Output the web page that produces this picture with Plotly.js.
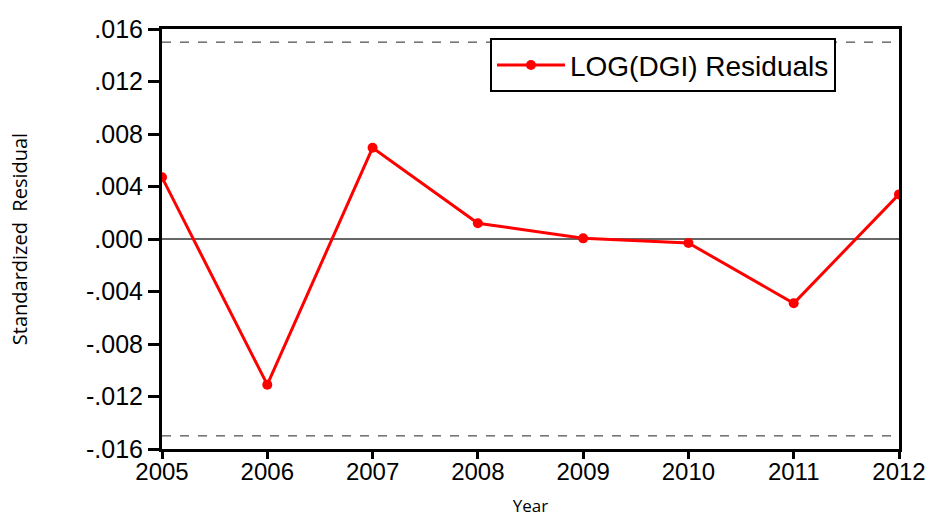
<!DOCTYPE html>
<html>
<head>
<meta charset="utf-8">
<script src="https://cdn.plot.ly/plotly-3.0.1.min.js"></script>
<style>html,body{margin:0;padding:0;background:#fff;}#chart{width:936px;height:517px;}</style>
</head>
<body>
<div id="chart"></div>
<script>
var years = [2005, 2006, 2007, 2008, 2009, 2010, 2011, 2012];
var residuals = [0.0047, -0.0111, 0.00695, 0.0012, 0.00005, -0.0003, -0.0049, 0.0034];
var bandUpper = 0.015;
var bandLower = -0.015;
var yTickVals = [-0.016, -0.012, -0.008, -0.004, 0, 0.004, 0.008, 0.012, 0.016];
var yTickText = ['-.016', '-.012', '-.008', '-.004', '.000', '.004', '.008', '.012', '.016'];
var seriesName = 'LOG(DGI) Residuals';

var trace = {
  x: years, y: residuals, type: 'scatter', mode: 'lines+markers',
  name: seriesName,
  line: {color: '#ff0000', width: 3},
  marker: {color: '#ff0000', size: 10},
  cliponaxis: true
};

var layout = {
  width: 936, height: 517,
  margin: {l: 162, r: 37, t: 29, b: 68},
  paper_bgcolor: '#fff', plot_bgcolor: '#fff',
  showlegend: true,
  legend: {
    x: 0.445, y: 0.978, xanchor: 'left', yanchor: 'top',
    bordercolor: '#000', borderwidth: 2, bgcolor: '#fff',
    font: {family: 'Liberation Sans, Arial, sans-serif', size: 28, color: '#000'},
    itemwidth: 68
  },
  xaxis: {
    range: [2005, 2012], tickvals: years, ticktext: years.map(String),
    showgrid: false, zeroline: false,
    showline: true, linecolor: '#000', linewidth: 3, mirror: true,
    ticks: 'outside', ticklen: 7, tickwidth: 3, tickcolor: '#000',
    ticklabelstandoff: -8,
    tickfont: {family: 'Liberation Sans, Arial, sans-serif', size: 24, color: '#000'},
    title: {text: 'Year', font: {family: 'Open Sans, sans-serif', size: 17, color: '#000'}, standoff: 18}
  },
  yaxis: {
    range: [-0.016, 0.016], tickvals: yTickVals, ticktext: yTickText,
    showgrid: false, zeroline: true, zerolinecolor: '#666', zerolinewidth: 1.5,
    showline: true, linecolor: '#000', linewidth: 3, mirror: true,
    ticks: 'outside', ticklen: 11, tickwidth: 3, tickcolor: '#000',
    tickfont: {family: 'Liberation Sans, Arial, sans-serif', size: 25, color: '#000'},
    title: {text: 'Standardized\u00a0\u00a0Residual', font: {family: 'Open Sans, sans-serif', size: 20, color: '#000'}, standoff: 54}
  },
  shapes: [
    {type: 'line', xref: 'paper', x0: 0, x1: 1, yref: 'y', y0: bandUpper, y1: bandUpper,
     line: {color: '#222', width: 1, dash: 'dash'}},
    {type: 'line', xref: 'paper', x0: 0, x1: 1, yref: 'y', y0: bandLower, y1: bandLower,
     line: {color: '#222', width: 1, dash: 'dash'}}
  ]
};

Plotly.newPlot('chart', [trace], layout, {displayModeBar: false, staticPlot: true});
</script>
</body>
</html>
